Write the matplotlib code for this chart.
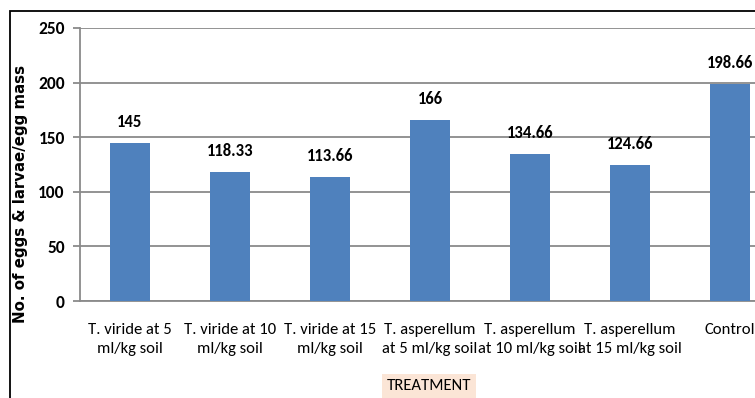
import matplotlib
matplotlib.use("Agg")
import matplotlib.pyplot as plt
from matplotlib.patches import Rectangle

# treatments and mean counts
treatments = [
    "T. viride at 5\nml/kg soil",
    "T. viride at 10\nml/kg soil",
    "T. viride at 15\nml/kg soil",
    "T. asperellum\nat 5 ml/kg soil",
    "T. asperellum\nat 10 ml/kg soil",
    "T. asperellum\nat 15 ml/kg soil",
    "Control",
]
counts = [145, 118.33, 113.66, 166, 134.66, 124.66, 198.66]
value_labels = ["145", "118.33", "113.66", "166", "134.66", "124.66", "198.66"]
yticks = [0, 50, 100, 150, 200, 250]

FONT = "Carlito"
GRID = "#8a8a8a"

W, H = 755, 398
fig = plt.figure(figsize=(W / 100, H / 100), dpi=100)
fig.patch.set_facecolor("white")

# plot area runs past the right edge of the canvas
left, right, top, bottom = 80, 780, 28, 301
ax = fig.add_axes([left / W, (H - bottom) / H, (right - left) / W, (bottom - top) / H])

x = range(len(counts))
ax.bar(x, counts, width=0.4, color="#4f81bd", zorder=3)
ax.set_xlim(-0.5, len(counts) - 0.5)
ax.set_ylim(0, 250)
ax.set_yticks(yticks)
ax.set_yticklabels([str(t) for t in yticks], fontsize=12.5, fontweight="bold",
                   family=FONT)
ax.yaxis.grid(True, color=GRID, linewidth=1.3, zorder=0)
ax.set_xticks(list(x))
ax.set_xticklabels(treatments, fontsize=12, family=FONT, linespacing=1.45)
ax.tick_params(axis="x", length=0, pad=16)
ax.tick_params(axis="y", length=5, color=GRID, width=1.3, pad=6)
for s in ["top", "right"]:
    ax.spines[s].set_visible(False)
for s in ["left", "bottom"]:
    ax.spines[s].set_color(GRID)
    ax.spines[s].set_linewidth(1.3)

for i, (v, lab) in enumerate(zip(counts, value_labels)):
    ax.annotate(lab, (i, v), xytext=(0, 11.5), textcoords="offset points",
                ha="center", va="baseline", fontsize=12, fontweight="bold",
                family=FONT)

fig.text(21 / W, 1 - 194 / H, "No. of eggs & larvae/egg mass", rotation=90,
         ha="center", va="center", fontsize=10.8, fontweight="bold")

fig.text(429 / W, 1 - 386 / H, "TREATMENT", ha="center", va="center",
         fontsize=12, family=FONT,
         bbox=dict(boxstyle="square,pad=0.3", facecolor="#fbe5d6",
                   edgecolor="none"))

# chart frame
fig.patches.append(Rectangle((10 / W, -0.1), 1.2, (H - 11) / H + 0.1,
                             transform=fig.transFigure, fill=False,
                             edgecolor="black", linewidth=1.3))

fig.savefig("out.png", dpi=100)
